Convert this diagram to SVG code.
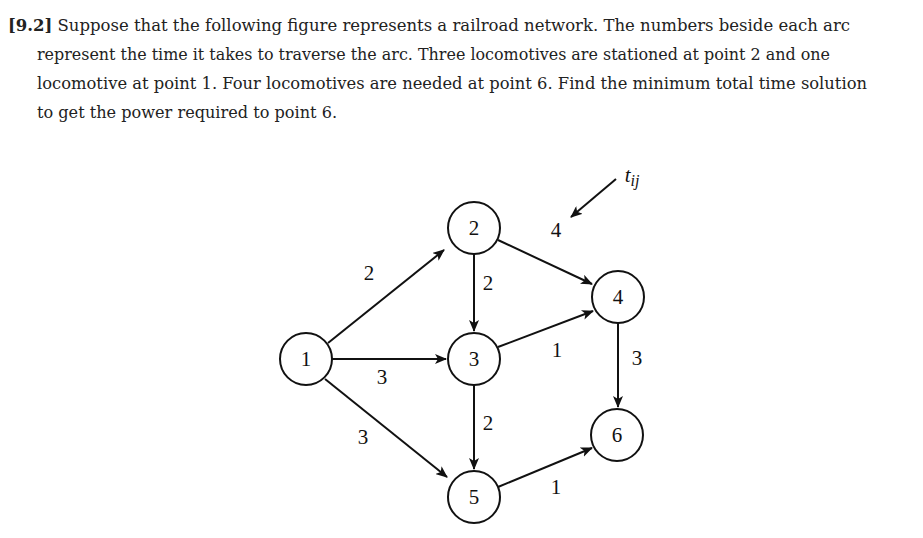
<svg xmlns="http://www.w3.org/2000/svg" width="923" height="538" viewBox="0 0 923 538">
<style>
.hd{font-family:"DejaVu Serif","Liberation Serif",serif;font-size:16px;fill:#222}
.n circle{fill:#fff;stroke:#111;stroke-width:2}
.n text,.lb{font-family:"Liberation Serif",serif;font-size:21px;fill:#111;text-anchor:middle}
.e line{stroke:#111;stroke-width:2;marker-end:url(#ah)}
</style>
<defs>
<marker id="ah" viewBox="0 0 12 10" refX="11" refY="5" markerWidth="12" markerHeight="10" markerUnits="userSpaceOnUse" orient="auto">
<path d="M0,0 L12,5 L0,10 L3,5 Z" fill="#111"/>
</marker>
</defs>
<rect width="923" height="538" fill="#fff"/>
<text class="hd" x="8" y="31" textLength="842" lengthAdjust="spacingAndGlyphs"><tspan font-weight="bold">[9.2]</tspan>  Suppose that the following figure represents a railroad network. The numbers beside each arc</text>
<text class="hd" x="37" y="60" textLength="793" lengthAdjust="spacingAndGlyphs">represent the time it takes to traverse the arc. Three locomotives are stationed at point 2 and one</text>
<text class="hd" x="37" y="89" textLength="830" lengthAdjust="spacingAndGlyphs">locomotive at point 1. Four locomotives are needed at point 6. Find the minimum total time solution</text>
<text class="hd" x="37" y="118" textLength="300" lengthAdjust="spacingAndGlyphs">to get the power required to point 6.</text>
<g id="connectors" class="e">
<line x1="328" y1="343" x2="444" y2="250"/>
<line x1="332" y1="359" x2="446" y2="359"/>
<line x1="325" y1="379" x2="447" y2="477"/>
<line x1="474" y1="254" x2="474" y2="331"/>
<line x1="498" y1="240" x2="592" y2="284"/>
<line x1="498" y1="347" x2="593" y2="311"/>
<line x1="474" y1="385" x2="474" y2="469"/>
<line x1="618" y1="323" x2="618" y2="407"/>
<line x1="498" y1="487" x2="592" y2="448"/>
<line x1="616" y1="179" x2="571" y2="217"/>
</g>
<g id="n1" class="n"><circle cx="306" cy="359" r="26"/><text x="306" y="366">1</text></g>
<g id="n2" class="n"><circle cx="474" cy="228" r="26"/><text x="474" y="235">2</text></g>
<g id="n3" class="n"><circle cx="474" cy="359" r="26"/><text x="474" y="366">3</text></g>
<g id="n4" class="n"><circle cx="618" cy="297" r="26"/><text x="618" y="304">4</text></g>
<g id="n5" class="n"><circle cx="474" cy="497" r="26"/><text x="474" y="504">5</text></g>
<g id="n6" class="n"><circle cx="617" cy="435" r="26"/><text x="617" y="442">6</text></g>
<g id="labels">
<text class="lb" x="369" y="280">2</text>
<text class="lb" x="488" y="290">2</text>
<text class="lb" x="556" y="237">4</text>
<text class="lb" x="557" y="357">1</text>
<text class="lb" x="637" y="365">3</text>
<text class="lb" x="382" y="384">3</text>
<text class="lb" x="363" y="444">3</text>
<text class="lb" x="488" y="430">2</text>
<text class="lb" x="556" y="494">1</text>
<text class="lb" x="632" y="182" font-style="italic" font-size="24">t<tspan font-size="16" dy="4">ij</tspan></text>
</g>
</svg>
